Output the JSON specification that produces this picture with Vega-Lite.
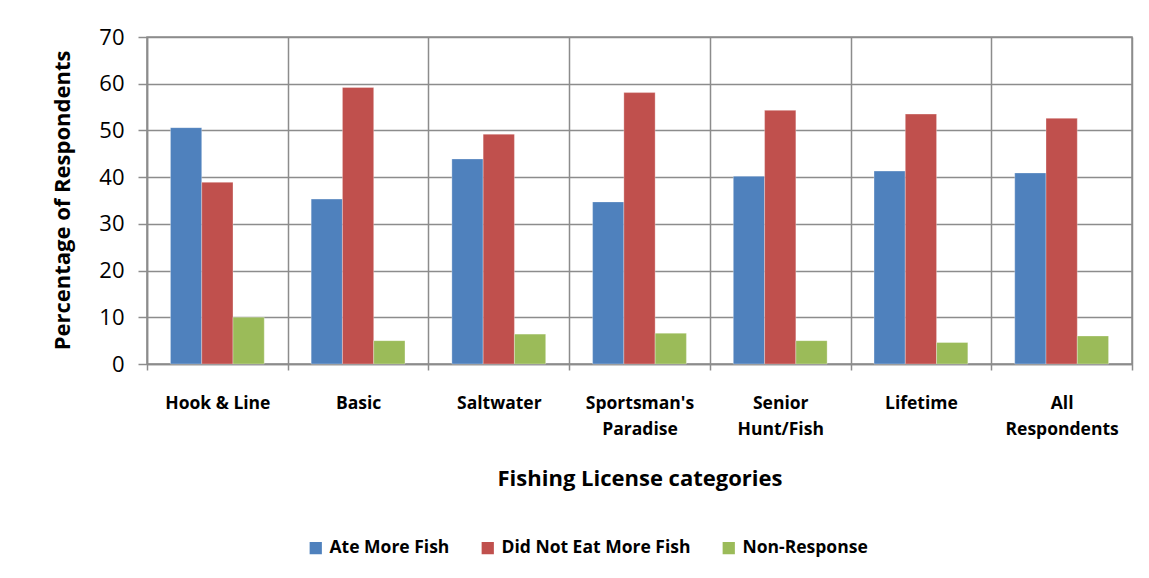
{
  "$schema": "https://vega.github.io/schema/vega-lite/v6.json",
  "autosize": "none",
  "width": 985,
  "height": 327,
  "padding": {"left": 147, "top": 37, "right": 17, "bottom": 214},
  "background": "white",
  "data": {
    "values": [
      {"category": "Hook & Line", "group": "Ate More Fish", "pct": 50.6},
      {"category": "Hook & Line", "group": "Did Not Eat More Fish", "pct": 38.9},
      {"category": "Hook & Line", "group": "Non-Response", "pct": 10.0},
      {"category": "Basic", "group": "Ate More Fish", "pct": 35.3},
      {"category": "Basic", "group": "Did Not Eat More Fish", "pct": 59.2},
      {"category": "Basic", "group": "Non-Response", "pct": 5.0},
      {"category": "Saltwater", "group": "Ate More Fish", "pct": 43.9},
      {"category": "Saltwater", "group": "Did Not Eat More Fish", "pct": 49.2},
      {"category": "Saltwater", "group": "Non-Response", "pct": 6.4},
      {"category": "Sportsman's Paradise", "group": "Ate More Fish", "pct": 34.7},
      {"category": "Sportsman's Paradise", "group": "Did Not Eat More Fish", "pct": 58.1},
      {"category": "Sportsman's Paradise", "group": "Non-Response", "pct": 6.6},
      {"category": "Senior Hunt/Fish", "group": "Ate More Fish", "pct": 40.2},
      {"category": "Senior Hunt/Fish", "group": "Did Not Eat More Fish", "pct": 54.3},
      {"category": "Senior Hunt/Fish", "group": "Non-Response", "pct": 5.0},
      {"category": "Lifetime", "group": "Ate More Fish", "pct": 41.3},
      {"category": "Lifetime", "group": "Did Not Eat More Fish", "pct": 53.5},
      {"category": "Lifetime", "group": "Non-Response", "pct": 4.6},
      {"category": "All Respondents", "group": "Ate More Fish", "pct": 40.9},
      {"category": "All Respondents", "group": "Did Not Eat More Fish", "pct": 52.6},
      {"category": "All Respondents", "group": "Non-Response", "pct": 6.0}
    ]
  },
  "mark": {"type": "bar", "stroke": "white", "strokeWidth": 0.5, "strokeOpacity": 0.6},
  "encoding": {
    "x": {
      "field": "category",
      "type": "nominal",
      "sort": null,
      "scale": {"paddingInner": 0, "paddingOuter": 0},
      "axis": {
        "title": "Fishing License categories",
        "titleFontSize": 22,
        "titleFontWeight": "bold",
        "titleColor": "black",
        "titleY": 114,
        "titleBaseline": "middle",
        "labelAngle": 0,
        "labelFontSize": 17.5,
        "labelFontWeight": "bold",
        "labelColor": "black",
        "labelPadding": 24,
        "labelLineHeight": 26,
        "labelBaseline": "top",
        "tickBand": "extent",
        "ticks": true,
        "tickSize": 6,
        "tickColor": "#8c8c8c",
        "tickWidth": 1.5,
        "grid": true,
        "gridColor": "#8c8c8c",
        "gridWidth": 1.5,
        "gridOpacity": 1,
        "domainColor": "#8c8c8c",
        "domainWidth": 1.5,
        "labelExpr": "datum.value == \"Sportsman's Paradise\" ? [\"Sportsman's\", \"Paradise\"] : datum.value == 'Senior Hunt/Fish' ? ['Senior', 'Hunt/Fish'] : datum.value == 'All Respondents' ? ['All', 'Respondents'] : datum.value"
      }
    },
    "xOffset": {
      "field": "group",
      "type": "nominal",
      "scale": {"paddingInner": 0, "paddingOuter": 0.75}
    },
    "y": {
      "field": "pct",
      "type": "quantitative",
      "scale": {"domain": [0, 70]},
      "axis": {
        "title": "Percentage of Respondents",
        "titleFontSize": 22,
        "titleFontWeight": "bold",
        "titleColor": "black",
        "titleX": -85,
        "titleY": 163,
        "titleAngle": -90,
        "titleAlign": "center",
        "titleBaseline": "middle",
        "values": [0, 10, 20, 30, 40, 50, 60, 70],
        "labelFontSize": 22,
        "labelColor": "black",
        "labelPadding": 14,
        "tickSize": 9,
        "tickColor": "#8c8c8c",
        "tickWidth": 1.5,
        "grid": true,
        "gridColor": "#8c8c8c",
        "gridWidth": 1.5,
        "gridOpacity": 1,
        "domainColor": "#8c8c8c",
        "domainWidth": 1.5
      }
    },
    "color": {
      "field": "group",
      "type": "nominal",
      "scale": {
        "domain": ["Ate More Fish", "Did Not Eat More Fish", "Non-Response"],
        "range": ["#4F81BD", "#C0504D", "#9BBB59"]
      },
      "legend": {
        "title": null,
        "orient": "none",
        "direction": "horizontal",
        "legendX": 160,
        "legendY": 502,
        "symbolType": "square",
        "symbolSize": 150,
        "symbolStrokeWidth": 0,
        "labelFontSize": 17.5,
        "labelFontWeight": "bold",
        "labelColor": "black",
        "labelLimit": 400,
        "labelOffset": 5,
        "columnPadding": 29
      }
    }
  },
  "config": {
    "font": "Open Sans",
    "view": {"stroke": "#8c8c8c", "strokeWidth": 1.5}
  }
}
